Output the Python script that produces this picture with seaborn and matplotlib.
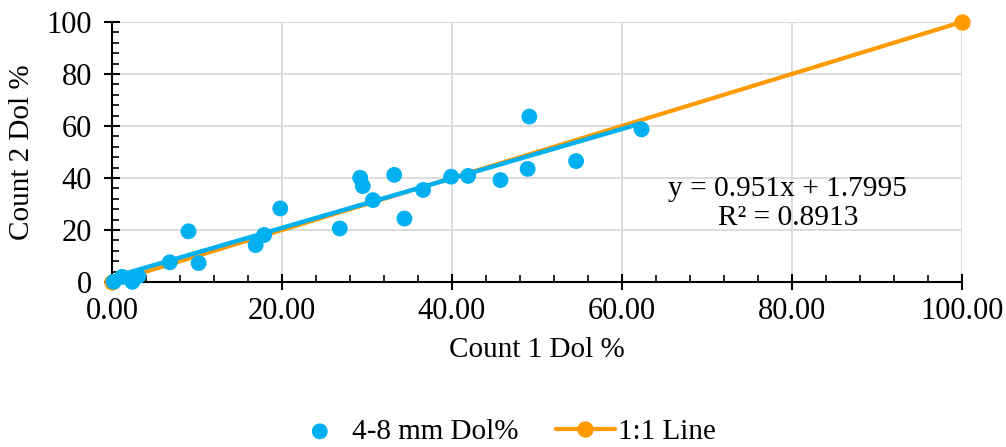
import numpy as np
import pandas as pd
import matplotlib
matplotlib.use("Agg")
import matplotlib.pyplot as plt
from matplotlib.ticker import MultipleLocator, FormatStrFormatter
import seaborn as sns

# Count 1 vs Count 2 dolomite percentages (4-8 mm fraction)
count1 = [0.2, 1.2, 2.4, 3.1, 6.8, 9.0, 10.2, 16.9, 17.9, 19.8,
          26.8, 29.2, 29.5, 30.7, 33.2, 34.4, 36.6, 39.9, 41.9,
          45.7, 48.9, 49.1, 54.6, 62.3]
count2 = [0.1, 2.0, 0.1, 2.3, 7.6, 19.5, 7.3, 14.2, 18.1, 28.3,
          20.6, 40.1, 36.9, 31.5, 41.2, 24.4, 35.4, 40.5, 40.8,
          39.2, 43.5, 63.6, 46.5, 58.7]

# 1:1 reference line
one_x = [0, 100]
one_y = [0, 100]

# linear trendline as reported on the chart
slope = 0.951
intercept = 1.7995
r2 = 0.8913

blue = "#00B0F0"
orange = "#FF9A00"

sns.set_theme(style="white")
plt.rcParams["font.family"] = ["Liberation Serif", "DejaVu Serif"]
plt.rcParams["text.color"] = "black"
plt.rcParams["axes.labelcolor"] = "black"

df = pd.DataFrame({"Count 1 Dol %": count1, "Count 2 Dol %": count2})
trend_x = np.array([min(count1) - 0.2, max(count1)])
trend = pd.DataFrame({"x": trend_x, "y": slope * trend_x + intercept})
line_df = pd.DataFrame({"x": one_x, "y": one_y})

fig = plt.figure(figsize=(10.06, 4.47), dpi=100)
ax = fig.add_axes([0.1113, 0.369, 0.845, 0.582])

sns.lineplot(data=line_df, x="x", y="y", ax=ax, color=orange, linewidth=3,
             marker="o", markersize=11, markeredgecolor=orange,
             label="1:1 Line", zorder=2, clip_on=False)
sns.lineplot(data=trend, x="x", y="y", ax=ax, color=blue, linewidth=3.2,
             legend=False, zorder=3)
sns.scatterplot(data=df, x="Count 1 Dol %", y="Count 2 Dol %", ax=ax,
                color=blue, s=130, edgecolor="none", label="4-8 mm Dol%",
                zorder=4, clip_on=False)

ax.set_xlim(0, 100)
ax.set_ylim(0, 100)
ax.xaxis.set_major_locator(MultipleLocator(20))
ax.xaxis.set_minor_locator(MultipleLocator(4))
ax.yaxis.set_major_locator(MultipleLocator(20))
ax.yaxis.set_minor_locator(MultipleLocator(4))
ax.xaxis.set_major_formatter(FormatStrFormatter("%.2f"))
ax.yaxis.set_major_formatter(FormatStrFormatter("%d"))

ax.grid(True, which="major", color="#D9D9D9", linewidth=1.3)
ax.set_axisbelow(True)
for side in ["top", "right"]:
    ax.spines[side].set_visible(False)
for side in ["left", "bottom"]:
    ax.spines[side].set_color("black")
    ax.spines[side].set_linewidth(1.5)

ax.tick_params(which="major", direction="inout", length=11, width=1.5,
               colors="black", labelsize=22, left=True, bottom=True)
ax.tick_params(axis="x", which="major", pad=5)
ax.tick_params(axis="y", which="major", pad=9)
ax.tick_params(which="minor", direction="in", length=5, width=1.2,
               colors="black", left=True, bottom=True)

ax.set_xlabel("Count 1 Dol %", fontsize=21, labelpad=8)
ax.set_ylabel("Count 2 Dol %", fontsize=21, labelpad=8)

ax.text(79.5, 35.8, f"y = {slope}x + {intercept}", fontsize=21.2,
        ha="center", va="center")
ax.text(79.5, 24.6, f"R² = {r2}", fontsize=21.2, ha="center", va="center")

handles, labels = ax.get_legend_handles_labels()
order = [labels.index("4-8 mm Dol%"), labels.index("1:1 Line")]
ax.legend([handles[i] for i in order], [labels[i] for i in order],
          loc="center", bbox_to_anchor=(0.5, 0.034),
          bbox_transform=fig.transFigure, ncol=2, frameon=False,
          fontsize=21, handlelength=2.0, columnspacing=1.3,
          handletextpad=0.1)

fig.savefig("out.png", dpi=100)
